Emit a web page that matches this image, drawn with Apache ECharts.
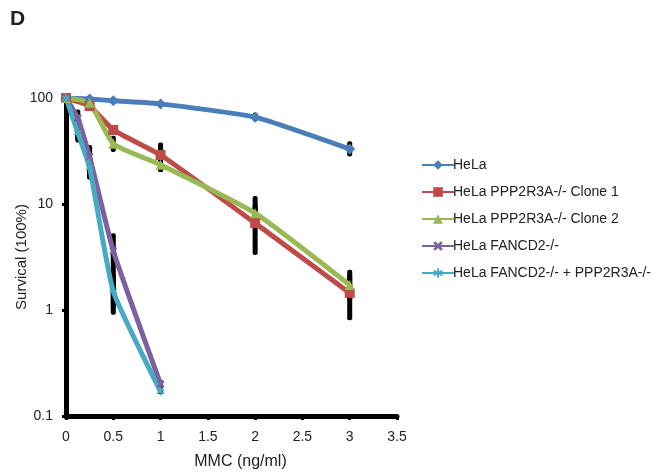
<!DOCTYPE html>
<html>
<head>
<meta charset="utf-8">
<script src="https://cdn.jsdelivr.net/npm/echarts@6/dist/echarts.min.js"></script>
<style>
  html, body { margin: 0; padding: 0; background: #fff; }
  #chart { width: 658px; height: 472px; }
</style>
</head>
<body>
<div id="chart"></div>
<script>
// doses (ng/ml)
const doses = [0, 0.25, 0.5, 1, 2, 3]
const fancDoses = [0, 0.125, 0.25, 0.5, 1]

// survival (%)
const hela = [100, 98, 94, 88, 66, 33]
const helaLow = [null, 93, 88, 82, 60, 28]
const helaHigh = [null, 104, 101, 94, 73, 39]

const clone1 = [100, 84, 50, 29, 6.6, 1.45]
const clone1Low = [null, 80, 45, 20, 3.3, 0.8]
const clone1High = [null, 90, 55, 38, 11.9, 2.4]

const clone2 = [100, 90, 37, 23.5, 8.2, 1.72]
const clone2Low = [null, 86, 31, 20, 6, 1.2]
const clone2High = [null, 95, 44, 28, 10, 2.2]

const fancd2 = [100, 65, 28, 3.6, 0.2]
const fancd2Low = [null, 38, 17, 1.05, 0.18]
const fancd2High = [null, 78, 36, 5.3, 0.22]

const dko = [100, 47, 22, 1.5, 0.17]
const dkoLow = [null, 40, 17, 0.9, 0.16]
const dkoHigh = [null, 55, 28, 2.2, 0.18]

const names = [
  'HeLa',
  'HeLa PPP2R3A-/- Clone 1',
  'HeLa PPP2R3A-/- Clone 2',
  'HeLa FANCD2-/-',
  'HeLa FANCD2-/- + PPP2R3A-/-',
]
const colors = ['#4a7ebb', '#be4b48', '#98b954', '#7d60a0', '#46aac4']
const xTicks = [0, 0.5, 1, 1.5, 2, 2.5, 3, 3.5]

const xMark = 'path://M2,0L5,3L8,0L10,2L7,5L10,8L8,10L5,7L2,10L0,8L3,5L0,2Z'
const starMark = 'path://M4,0H6V3.5L9,1.5L10,3.2L7,5L10,6.8L9,8.5L6,6.5V10H4V6.5L1,8.5L0,6.8L3,5L0,3.2L1,1.5L4,3.5Z'

const pairs = (xs, ys) => xs.map((x, i) => [x, ys[i]])
const errData = (xs, lo, hi) =>
  xs.map((x, i) => [x, lo[i], hi[i]]).filter((d) => d[1] != null)

const errBars = []
  .concat(errData(doses, helaLow, helaHigh))
  .concat(errData(doses, clone1Low, clone1High))
  .concat(errData(doses, clone2Low, clone2High))
  .concat(errData(fancDoses, fancd2Low, fancd2High))
  .concat(errData(fancDoses, dkoLow, dkoHigh))

const chart = echarts.init(document.getElementById('chart'))

const lineSeries = (i, data, symbol, size) => ({
  name: names[i],
  type: 'line',
  data: data,
  smooth: 0.15,
  symbol: symbol,
  symbolSize: size,
  lineStyle: { color: colors[i], width: 5 },
  itemStyle: { color: colors[i] },
  z: 3,
})

chart.setOption({
  animation: false,
  backgroundColor: '#fff',
  textStyle: { fontFamily: 'Liberation Sans, Arial, sans-serif' },
  graphic: [
    {
      type: 'text',
      left: 10,
      top: 9,
      style: { text: 'D', font: 'bold 21px Liberation Sans, Arial', fill: '#222' },
    },
  ],
  grid: { left: 66, top: 98, width: 331, height: 318, outerBoundsMode: 'none' },
  legend: {
    orient: 'vertical',
    left: 416,
    top: 153,
    itemWidth: 32,
    itemHeight: 12,
    itemGap: 13,
    textStyle: { fontSize: 14, color: '#222', padding: [0, 0, 0, -6] },
    data: names,
  },
  xAxis: {
    type: 'value',
    min: 0,
    max: 3.5,
    interval: 0.5,
    name: 'MMC (ng/ml)',
    nameLocation: 'middle',
    nameGap: 38,
    nameMoveOverlap: false,
    nameTextStyle: { fontSize: 16, color: '#222', padding: [0, 0, 0, 18] },
    splitLine: { show: false },
    axisLine: { lineStyle: { color: '#000', width: 5 } },
    axisTick: { length: 4, lineStyle: { color: '#000', width: 3 } },
    axisLabel: {
      fontSize: 14,
      color: '#222',
      margin: 14,
      formatter: (v) => (xTicks.includes(v) ? String(v) : ''),
    },
  },
  yAxis: {
    type: 'log',
    logBase: 10,
    min: 0.1,
    max: 100,
    name: 'Survical (100%)',
    nameLocation: 'middle',
    nameGap: 37,
    nameMoveOverlap: false,
    nameTextStyle: { fontSize: 15, color: '#222' },
    splitLine: { show: false },
    axisLine: { lineStyle: { color: '#000', width: 5 } },
    axisTick: { length: 4, lineStyle: { color: '#000', width: 3 } },
    axisLabel: { fontSize: 14, color: '#222', margin: 13 },
  },
  series: [
    {
      type: 'custom',
      silent: true,
      z: 2,
      data: errBars,
      renderItem: (params, api) => {
        const top = api.coord([api.value(0), api.value(2)])
        const bot = api.coord([api.value(0), api.value(1)])
        return {
          type: 'rect',
          shape: { x: top[0] - 2.5, y: top[1], width: 5, height: bot[1] - top[1], r: 2 },
          style: { fill: '#000' },
        }
      },
    },
    lineSeries(0, pairs(doses, hela), 'diamond', 11),
    lineSeries(1, pairs(doses, clone1), 'rect', 10),
    lineSeries(2, pairs(doses, clone2), 'triangle', 10),
    lineSeries(3, pairs(fancDoses, fancd2), xMark, 8),
    lineSeries(4, pairs(fancDoses, dko), starMark, 8),
  ],
})
</script>
</body>
</html>
